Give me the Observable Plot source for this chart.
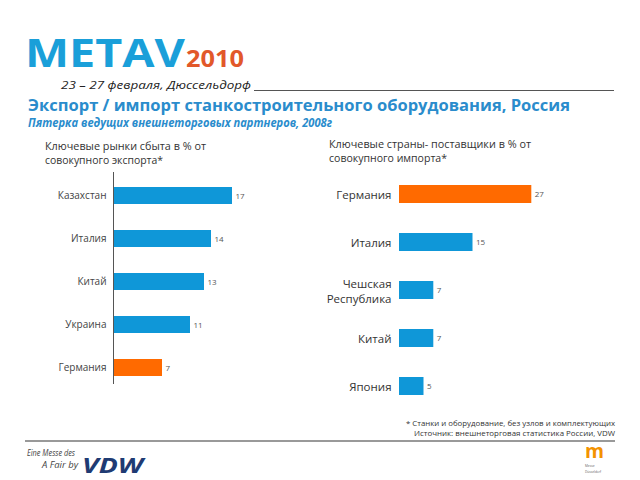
<!DOCTYPE html>
<html>
<head>
<meta charset="utf-8">
<script src="https://cdn.jsdelivr.net/npm/d3@7"></script>
<script src="https://cdn.jsdelivr.net/npm/@observablehq/plot@0.6"></script>
<style>
  html, body { margin: 0; padding: 0; background: #fff; width: 640px; height: 480px; overflow: hidden; }
  #page { position: relative; width: 640px; height: 480px; }
  #deco { position: absolute; left: 0; top: 0; }
  #exportChart { position: absolute; left: 0; top: 162px; }
  #importChart { position: absolute; left: 300px; top: 157.5px; }
  svg text { font-family: "Open Sans", "DejaVu Sans", sans-serif; }
</style>
</head>
<body>
<div id="page">
  <svg id="deco" width="640" height="480" xmlns="http://www.w3.org/2000/svg">
    <text x="25" y="67" font-family="Liberation Sans" font-weight="bold" font-size="40" fill="#1a9fd9" textLength="160" lengthAdjust="spacingAndGlyphs">METAV</text>
    <text x="186" y="67" font-family="Liberation Sans" font-weight="bold" font-size="24" fill="#e2582a" textLength="58" lengthAdjust="spacingAndGlyphs">2010</text>
    <text x="61" y="89" font-style="italic" font-size="11" fill="#222" textLength="190" lengthAdjust="spacingAndGlyphs">23 – 27 февраля, Дюссельдорф</text>
    <line x1="254" y1="90.5" x2="614" y2="90.5" stroke="#555" stroke-width="1"/>
    <text x="28" y="110.5" font-weight="bold" font-size="16.5" fill="#2a8ccc" textLength="542" lengthAdjust="spacingAndGlyphs">Экспорт / импорт станкостроительного оборудования, Россия</text>
    <text x="28" y="127" font-weight="bold" font-style="italic" font-size="12.5" fill="#2a8ccc" textLength="304" lengthAdjust="spacingAndGlyphs">Пятерка ведущих внешнеторговых партнеров, 2008г</text>
    <text x="45" y="150" font-size="11" fill="#333" textLength="161" lengthAdjust="spacingAndGlyphs">Ключевые рынки сбыта в % от</text>
    <text x="45" y="164" font-size="11" fill="#333" textLength="118" lengthAdjust="spacingAndGlyphs">совокупного экспорта*</text>
    <text x="329" y="148" font-size="11" fill="#333" textLength="202" lengthAdjust="spacingAndGlyphs">Ключевые страны- поставщики в % от</text>
    <text x="329" y="162" font-size="11" fill="#333" textLength="118" lengthAdjust="spacingAndGlyphs">совокупного импорта*</text>
    <text x="615" y="426" text-anchor="end" font-size="8" fill="#333" textLength="209" lengthAdjust="spacingAndGlyphs">* Станки и оборудование, без узлов и комплектующих</text>
    <text x="615" y="436" text-anchor="end" font-size="8" fill="#333" textLength="201" lengthAdjust="spacingAndGlyphs">Источник: внешнеторговая статистика России, VDW</text>
    <line x1="25" y1="441" x2="615" y2="441" stroke="#777" stroke-width="1.5"/>
    <text x="27" y="456" font-style="italic" font-size="9" fill="#444" textLength="48" lengthAdjust="spacingAndGlyphs">Eine Messe des</text>
    <text x="42" y="468" font-style="italic" font-size="9" fill="#444" textLength="36" lengthAdjust="spacingAndGlyphs">A Fair by</text>
    <text x="82" y="473" font-family="Liberation Sans" font-weight="bold" font-style="italic" font-size="22" fill="#1f3b73" textLength="61" lengthAdjust="spacingAndGlyphs">VDW</text>
    <text x="585" y="458" font-family="Liberation Sans" font-weight="bold" font-size="20" fill="#f39200" textLength="19" lengthAdjust="spacingAndGlyphs">m</text>
    <text x="585" y="467" font-size="3.2" fill="#666">Messe</text>
    <text x="585" y="472.5" font-size="3.2" fill="#666">Düsseldorf</text>
  </svg>
  <div id="exportChart"></div>
  <div id="importChart"></div>
</div>
<script>
const exportCountries = ["Казахстан", "Италия", "Китай", "Украина", "Германия"];
const exportValues = [17, 14, 13, 11, 7];
const importCountries = ["Германия", "Италия", "Чешская\nРеспублика", "Китай", "Япония"];
const importValues = [27, 15, 7, 7, 5];
const highlight = "Германия";
const blue = "#0f97d8";
const orange = "#ff6a00";

const exportData = exportCountries.map((c, i) => ({country: c, value: exportValues[i]}));
const importData = importCountries.map((c, i) => ({country: c, value: importValues[i]}));
const group = d => d.country === highlight ? "hl" : "other";

const exportPlot = Plot.plot({
  width: 270, height: 232,
  marginLeft: 113, marginRight: 17, marginTop: 10, marginBottom: 10,
  style: {fontFamily: "'Open Sans', sans-serif", fontSize: "10px", color: "#444", background: "transparent"},
  x: {domain: [0, 20], axis: null},
  y: {domain: exportCountries, paddingInner: 0.6, paddingOuter: 0.265, align: 0.66, label: null, tickSize: 0, tickPadding: 7},
  color: {domain: ["other", "hl"], range: [blue, orange]},
  marks: [
    Plot.barX(exportData, {x: "value", y: "country", fill: group}),
    Plot.text(exportData, {x: "value", y: "country", text: d => String(d.value), dx: 3, textAnchor: "start", fontSize: 8, fill: "#555"}),
    Plot.ruleX([0], {stroke: "#555", strokeWidth: 1})
  ]
});
document.getElementById("exportChart").append(exportPlot);

const importPlot = Plot.plot({
  width: 270, height: 264.5,
  marginLeft: 99, marginRight: 24, marginTop: 10, marginBottom: 10,
  style: {fontFamily: "'Open Sans', sans-serif", fontSize: "11.5px", color: "#333", background: "transparent"},
  x: {domain: [0, 30], axis: null},
  y: {domain: importCountries, paddingInner: 0.63, paddingOuter: 0.315, align: 0.5, axis: null},
  color: {domain: ["other", "hl"], range: [blue, orange]},
  marks: [
    Plot.barX(importData, {x: "value", y: "country", fill: group}),
    Plot.text(importData, {y: "country", text: "country", frameAnchor: "left", textAnchor: "end", dx: -8, lineHeight: 1.3, fontSize: 11.5, fill: "#333"}),
    Plot.text(importData, {x: "value", y: "country", text: d => String(d.value), dx: 3, textAnchor: "start", fontSize: 8, fill: "#555"})
  ]
});
document.getElementById("importChart").append(importPlot);
</script>
</body>
</html>
